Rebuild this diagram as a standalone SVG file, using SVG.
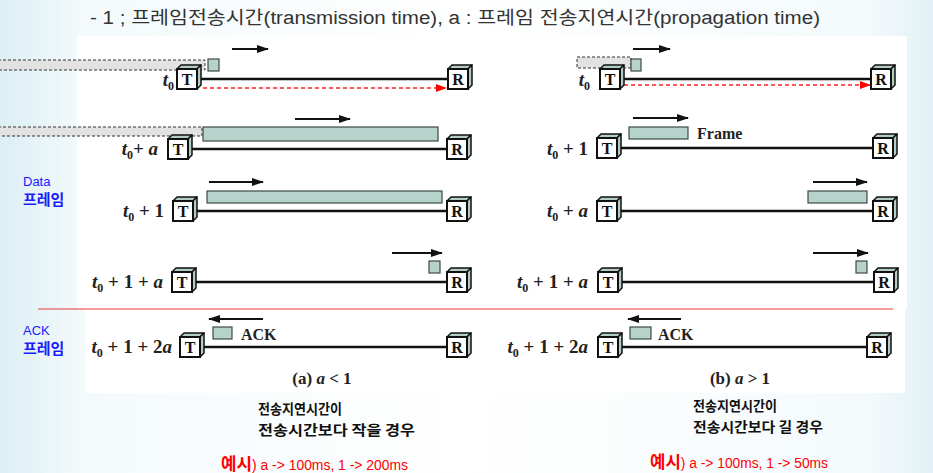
<svg xmlns="http://www.w3.org/2000/svg" xmlns:xlink="http://www.w3.org/1999/xlink" width="933" height="473" viewBox="0 0 933 473">
<style>
.side{fill:#b3cdc6;stroke:#111;stroke-width:1.5;stroke-linejoin:round}
.face{fill:#fff;stroke:#111;stroke-width:2}
.ltr{font-family:"Liberation Serif",serif;font-weight:bold;font-size:16px;fill:#111;text-anchor:middle}
.lbl{font-family:"Liberation Serif",serif;font-weight:bold;font-size:19px;fill:#222;text-anchor:end}
.it{font-style:italic}
.sub{font-size:12px}
.link{stroke:#111;stroke-width:2.5;fill:none}
.frm{fill:#b6d2cb;stroke:#3c4a46;stroke-width:1.2}
.ghost{fill:#e2e2e2;stroke:#333;stroke-width:1;stroke-dasharray:3 2}
.arr{stroke:#111;stroke-width:2;fill:none;marker-end:url(#ah)}
.red{stroke:#f22;stroke-width:1.5;stroke-dasharray:4 3;fill:none;marker-end:url(#rh)}
.tag{font-family:"Liberation Serif",serif;font-weight:bold;font-size:16px;fill:#222}
.blue{font-family:"Liberation Sans","Noto Sans CJK KR",sans-serif;fill:#1a1aff}
.kr{font-family:"Noto Sans CJK KR",sans-serif;font-weight:bold;font-size:14px;fill:#111}
.ex{font-family:"Liberation Sans","Noto Sans CJK KR",sans-serif;fill:#f00}
</style>
<defs>
<linearGradient id="bg" x1="0" y1="0" x2="1" y2="0">
<stop offset="0" stop-color="#dcefF4"/>
<stop offset="0.09" stop-color="#f4fafc"/>
<stop offset="0.5" stop-color="#ffffff"/>
<stop offset="0.93" stop-color="#f4fafc"/>
<stop offset="1" stop-color="#e2f1f6"/>
</linearGradient>
<marker id="ah" markerUnits="userSpaceOnUse" markerWidth="12" markerHeight="8" refX="11" refY="4" orient="auto"><path d="M0,0 L12,4 L0,8 z" fill="#111"/></marker>
<marker id="rh" markerUnits="userSpaceOnUse" markerWidth="11" markerHeight="8" refX="10" refY="4" orient="auto"><path d="M0,0 L11,4 L0,8 z" fill="#f00"/></marker>
<g id="cube">
<polygon class="side" points="0,4 4,0 24,0 20,4"/>
<polygon class="side" points="20,4 24,0 24,20 20,24"/>
<rect class="face" x="0" y="4" width="20" height="20"/>
</g>
</defs>
<rect width="933" height="473" fill="url(#bg)"/>
<rect x="77" y="36" width="830" height="273" fill="#fff"/>
<rect x="85" y="309" width="820" height="84" fill="#fff"/>

<text x="90" y="24" textLength="730" lengthAdjust="spacingAndGlyphs" font-family="Liberation Sans,Noto Sans CJK KR,sans-serif" font-size="18" fill="#333">- 1 ;  프레임전송시간(transmission time),  a : 프레임 전송지연시간(propagation time)</text>

<g id="connectors">
<line class="link" x1="197" y1="79" x2="448" y2="79"/>
<line class="link" x1="188" y1="149" x2="447" y2="149"/>
<line class="link" x1="193" y1="211" x2="447" y2="211"/>
<line class="link" x1="192" y1="282" x2="447" y2="282"/>
<line class="link" x1="200" y1="347" x2="447" y2="347"/>
<line class="link" x1="620" y1="79" x2="871" y2="79"/>
<line class="link" x1="617" y1="148" x2="873" y2="148"/>
<line class="link" x1="617" y1="211" x2="873" y2="211"/>
<line class="link" x1="618" y1="282" x2="874" y2="282"/>
<line class="link" x1="618" y1="347" x2="867" y2="347"/>
<line class="red" x1="203" y1="88" x2="446" y2="88"/>
<line class="red" x1="624" y1="85" x2="870" y2="85"/>
<line class="arr" x1="232" y1="49" x2="268" y2="49"/>
<line class="arr" x1="295" y1="119" x2="350" y2="119"/>
<line class="arr" x1="209" y1="182" x2="263" y2="182"/>
<line class="arr" x1="392" y1="253" x2="442" y2="253"/>
<line class="arr" x1="263" y1="319" x2="209" y2="319"/>
<line class="arr" x1="633" y1="49" x2="670" y2="49"/>
<line class="arr" x1="633" y1="118" x2="688" y2="118"/>
<line class="arr" x1="813" y1="182" x2="867" y2="182"/>
<line class="arr" x1="813" y1="253" x2="868" y2="253"/>
<line class="arr" x1="681" y1="319" x2="628" y2="319"/>
<line x1="38" y1="309" x2="893" y2="309" stroke="#e53a3a" stroke-width="1.2"/>
</g>

<g id="frames">
<rect class="ghost" x="-2" y="60" width="207" height="10"/>
<rect class="frm" x="208" y="59" width="11" height="12"/>
<rect class="ghost" x="-2" y="127" width="204" height="9"/>
<rect class="frm" x="203" y="127" width="235" height="14"/>
<rect class="frm" x="207" y="191" width="235" height="12"/>
<rect class="frm" x="429" y="261" width="11" height="12"/>
<rect class="frm" x="213" y="327" width="19" height="12"/>
<rect class="ghost" x="577" y="57" width="54" height="11"/>
<rect class="frm" x="631" y="59" width="10" height="12"/>
<rect class="frm" x="629" y="127" width="59" height="12"/>
<rect class="frm" x="808" y="191" width="59" height="12"/>
<rect class="frm" x="856" y="261" width="11" height="12"/>
<rect class="frm" x="630" y="327" width="21" height="12"/>
<text class="tag" x="697" y="139">Frame</text>
<text class="tag" x="241" y="340">ACK</text>
<text class="tag" x="658" y="340">ACK</text>
</g>

<g id="T_a1"><use xlink:href="#cube" x="177" y="65"/><text class="ltr" x="187" y="85">T</text></g>
<g id="R_a1"><use xlink:href="#cube" x="448" y="65"/><text class="ltr" x="458" y="85">R</text></g>
<g id="T_a2"><use xlink:href="#cube" x="168" y="135"/><text class="ltr" x="178" y="155">T</text></g>
<g id="R_a2"><use xlink:href="#cube" x="447" y="135"/><text class="ltr" x="457" y="155">R</text></g>
<g id="T_a3"><use xlink:href="#cube" x="173" y="197"/><text class="ltr" x="183" y="217">T</text></g>
<g id="R_a3"><use xlink:href="#cube" x="447" y="197"/><text class="ltr" x="457" y="217">R</text></g>
<g id="T_a4"><use xlink:href="#cube" x="172" y="268"/><text class="ltr" x="182" y="288">T</text></g>
<g id="R_a4"><use xlink:href="#cube" x="447" y="268"/><text class="ltr" x="457" y="288">R</text></g>
<g id="T_a5"><use xlink:href="#cube" x="180" y="333"/><text class="ltr" x="190" y="353">T</text></g>
<g id="R_a5"><use xlink:href="#cube" x="447" y="333"/><text class="ltr" x="457" y="353">R</text></g>
<g id="T_b1"><use xlink:href="#cube" x="600" y="65"/><text class="ltr" x="610" y="85">T</text></g>
<g id="R_b1"><use xlink:href="#cube" x="871" y="65"/><text class="ltr" x="881" y="85">R</text></g>
<g id="T_b2"><use xlink:href="#cube" x="597" y="134"/><text class="ltr" x="607" y="154">T</text></g>
<g id="R_b2"><use xlink:href="#cube" x="873" y="134"/><text class="ltr" x="883" y="154">R</text></g>
<g id="T_b3"><use xlink:href="#cube" x="597" y="197"/><text class="ltr" x="607" y="217">T</text></g>
<g id="R_b3"><use xlink:href="#cube" x="873" y="197"/><text class="ltr" x="883" y="217">R</text></g>
<g id="T_b4"><use xlink:href="#cube" x="598" y="268"/><text class="ltr" x="608" y="288">T</text></g>
<g id="R_b4"><use xlink:href="#cube" x="874" y="268"/><text class="ltr" x="884" y="288">R</text></g>
<g id="T_b5"><use xlink:href="#cube" x="598" y="333"/><text class="ltr" x="608" y="353">T</text></g>
<g id="R_b5"><use xlink:href="#cube" x="867" y="333"/><text class="ltr" x="877" y="353">R</text></g>

<g id="labels">
<text class="lbl" x="174" y="86"><tspan class="it">t</tspan><tspan class="sub" dy="4">0</tspan></text>
<text class="lbl" x="158" y="155" xml:space="preserve"><tspan class="it">t</tspan><tspan class="sub" dy="4">0</tspan><tspan dy="-4">+ </tspan><tspan class="it">a</tspan></text>
<text class="lbl" x="164" y="217" xml:space="preserve"><tspan class="it">t</tspan><tspan class="sub" dy="4">0</tspan><tspan dy="-4"> + 1</tspan></text>
<text class="lbl" x="163" y="288" xml:space="preserve"><tspan class="it">t</tspan><tspan class="sub" dy="4">0</tspan><tspan dy="-4"> + 1 + </tspan><tspan class="it">a</tspan></text>
<text class="lbl" x="172" y="353" xml:space="preserve"><tspan class="it">t</tspan><tspan class="sub" dy="4">0</tspan><tspan dy="-4"> + 1 + 2</tspan><tspan class="it">a</tspan></text>
<text class="lbl" x="590" y="86"><tspan class="it">t</tspan><tspan class="sub" dy="4">0</tspan></text>
<text class="lbl" x="588" y="155" xml:space="preserve"><tspan class="it">t</tspan><tspan class="sub" dy="4">0</tspan><tspan dy="-4"> + 1</tspan></text>
<text class="lbl" x="588" y="217" xml:space="preserve"><tspan class="it">t</tspan><tspan class="sub" dy="4">0</tspan><tspan dy="-4"> + </tspan><tspan class="it">a</tspan></text>
<text class="lbl" x="588" y="288" xml:space="preserve"><tspan class="it">t</tspan><tspan class="sub" dy="4">0</tspan><tspan dy="-4"> + 1 + </tspan><tspan class="it">a</tspan></text>
<text class="lbl" x="588" y="353" xml:space="preserve"><tspan class="it">t</tspan><tspan class="sub" dy="4">0</tspan><tspan dy="-4"> + 1 + 2</tspan><tspan class="it">a</tspan></text>
<text class="lbl" x="322" y="384" style="text-anchor:middle;font-size:17px" xml:space="preserve">(a) <tspan class="it">a</tspan> &lt; 1</text>
<text class="lbl" x="740" y="384" style="text-anchor:middle;font-size:17px" xml:space="preserve">(b) <tspan class="it">a</tspan> &gt; 1</text>
</g>

<g id="side-notes">
<text class="blue" x="23" y="186" font-size="13">Data</text>
<text class="blue" x="23" y="205" font-size="15" font-weight="bold">프레임</text>
<text class="blue" x="23" y="335" font-size="13">ACK</text>
<text class="blue" x="23" y="354" font-size="15" font-weight="bold">프레임</text>
</g>

<g id="notes">
<text class="kr" x="258" y="414" textLength="84" lengthAdjust="spacingAndGlyphs">전송지연시간이</text>
<text class="kr" x="258" y="435" textLength="157" lengthAdjust="spacingAndGlyphs">전송시간보다 작을 경우</text>
<text class="kr" x="693" y="411" textLength="84" lengthAdjust="spacingAndGlyphs">전송지연시간이</text>
<text class="kr" x="693" y="432" textLength="130" lengthAdjust="spacingAndGlyphs">전송시간보다 길 경우</text>
<text class="ex" x="221" y="470" textLength="187" lengthAdjust="spacingAndGlyphs"><tspan font-size="17" font-weight="bold">예시</tspan><tspan font-size="14">) a -&gt; 100ms, 1 -&gt; 200ms</tspan></text>
<text class="ex" x="650" y="468" textLength="178" lengthAdjust="spacingAndGlyphs"><tspan font-size="17" font-weight="bold">예시</tspan><tspan font-size="14">) a -&gt; 100ms, 1 -&gt; 50ms</tspan></text>
</g>
</svg>
